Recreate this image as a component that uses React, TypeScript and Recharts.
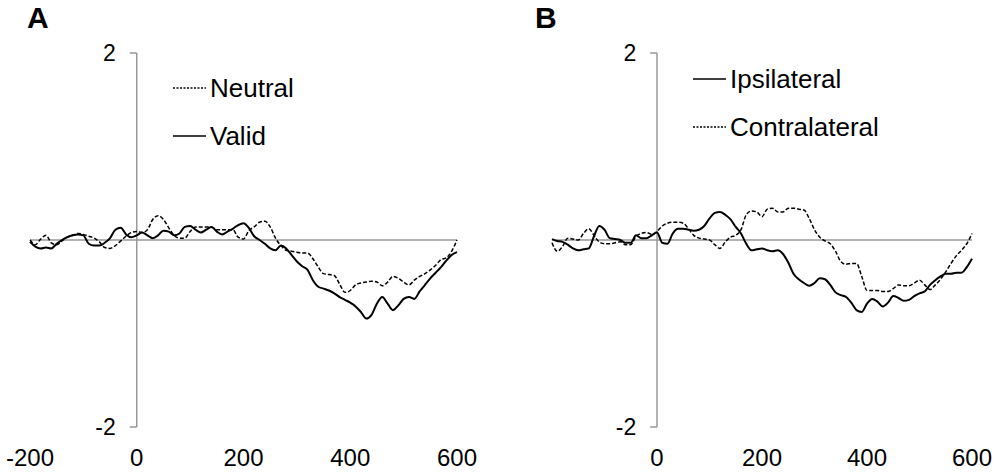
import { LineChart, Line, XAxis, YAxis, ReferenceLine, Legend } from "recharts";

// time axis (ms)
const times = [
  -200, -190, -180, -170, -160, -150, -140, -130, -120, -110, -100, -90, -80, -70, -60, -50, -40, -30, -20, -10,
  0, 10, 20, 30, 40, 50, 60, 70, 80, 90, 100, 110, 120, 130, 140, 150, 160, 170, 180, 190,
  200, 210, 220, 230, 240, 250, 260, 270, 280, 290, 300, 310, 320, 330, 340, 350, 360, 370, 380, 390,
  400, 410, 420, 430, 440, 450, 460, 470, 480, 490, 500, 510, 520, 530, 540, 550, 560, 570, 580, 590, 600,
];

// panel A
const neutral = [
  0.0, -0.05, 0.01, 0.05, -0.03, -0.05, -0.01, 0.03, 0.05, 0.07, 0.06, 0.04, 0.02, -0.02, -0.08, -0.09, -0.06, -0.01, 0.04, 0.08,
  0.09, 0.08, 0.11, 0.22, 0.26, 0.22, 0.13, 0.05, 0.02, 0.02, 0.09, 0.14, 0.14, 0.14, 0.14, 0.11, 0.11, 0.11, 0.11, 0.03,
  0.01, 0.1, 0.14, 0.19, 0.2, 0.14, 0.02, -0.06, -0.11, -0.12, -0.13, -0.14, -0.14, -0.2, -0.29, -0.36, -0.37, -0.38, -0.47, -0.56,
  -0.54, -0.48, -0.46, -0.45, -0.44, -0.45, -0.49, -0.45, -0.39, -0.41, -0.45, -0.48, -0.43, -0.39, -0.36, -0.32, -0.27, -0.21, -0.19, -0.12, 0.0,
];
const valid = [
  -0.02, -0.07, -0.09, -0.08, -0.09, -0.04, 0.0, 0.03, 0.05, 0.06, 0.05, -0.04, -0.06, -0.06, -0.03, 0.02, 0.11, 0.13, 0.06, 0.03,
  0.05, 0.08, 0.05, 0.02, 0.05, 0.1, 0.09, 0.05, 0.07, 0.14, 0.15, 0.11, 0.08, 0.11, 0.14, 0.09, 0.06, 0.09, 0.12, 0.16,
  0.18, 0.13, 0.04, 0.0, -0.04, -0.09, -0.11, -0.06, -0.09, -0.16, -0.23, -0.28, -0.32, -0.43, -0.5, -0.52, -0.54, -0.57, -0.61, -0.64,
  -0.67, -0.71, -0.77, -0.84, -0.8, -0.68, -0.61, -0.68, -0.75, -0.7, -0.63, -0.61, -0.63, -0.55, -0.48, -0.41, -0.35, -0.29, -0.22, -0.16, -0.13,
];

// panel B
const ipsilateral = [
  0.01, -0.01, -0.02, -0.05, -0.09, -0.11, -0.1, -0.09, 0.04, 0.15, 0.11, 0.02, 0.01, 0.0, -0.03, -0.03, 0.05, 0.02, 0.02, 0.05,
  0.08, -0.03, -0.04, 0.07, 0.12, 0.12, 0.11, 0.1, 0.11, 0.15, 0.23, 0.29, 0.3, 0.27, 0.22, 0.14, 0.07, -0.04, -0.11, -0.1,
  -0.09, -0.11, -0.12, -0.11, -0.15, -0.24, -0.36, -0.42, -0.46, -0.49, -0.46, -0.41, -0.42, -0.48, -0.56, -0.59, -0.61, -0.67, -0.75, -0.77,
  -0.68, -0.63, -0.66, -0.71, -0.67, -0.6, -0.62, -0.65, -0.64, -0.6, -0.57, -0.55, -0.48, -0.43, -0.39, -0.36, -0.36, -0.35, -0.35, -0.29, -0.2,
];
const contralateral = [
  -0.03, -0.12, -0.07, 0.02, 0.01, 0.0, 0.07, 0.12, 0.05, -0.02, -0.04, -0.04, -0.03, -0.02, -0.05, -0.05, 0.04, 0.07, 0.08, 0.06,
  0.09, 0.15, 0.18, 0.19, 0.19, 0.18, 0.12, 0.05, 0.02, 0.01, 0.0, -0.05, -0.09, -0.02, 0.03, 0.05, 0.11, 0.27, 0.31, 0.3,
  0.25, 0.33, 0.34, 0.3, 0.3, 0.34, 0.34, 0.33, 0.32, 0.23, 0.11, 0.03, -0.01, -0.04, -0.12, -0.23, -0.26, -0.25, -0.25, -0.39,
  -0.54, -0.54, -0.54, -0.55, -0.55, -0.52, -0.48, -0.49, -0.49, -0.46, -0.43, -0.48, -0.53, -0.48, -0.42, -0.34, -0.25, -0.17, -0.11, -0.04, 0.07,
];

const ticksA = [-200, 0, 200, 400, 600];
const ticksB = [0, 200, 400, 600];
const yTicks = [2, -2];

const FONT = '"Liberation Sans", Arial, sans-serif';

type Series = { key: string; name: string; values: number[]; dash?: string };

type PanelProps = {
  letter: string;
  letterX: number;
  left: number;
  series: Series[];
  ticks: number[];
  margin: { top: number; right: number; bottom: number; left: number };
  legendX: number;
  legendY: number;
};

function Panel({ letter, letterX, left, series, ticks, margin, legendX, legendY }: PanelProps) {
  const rows = times.map((t, i) => {
    const r: Record<string, number> = { t };
    series.forEach((s) => (r[s.key] = s.values[i]));
    return r;
  });

  // keep legend entries in series order (recharts sorts them by name otherwise)
  const renderLegend = (props: any) => {
    const payload: any[] = props.payload || [];
    const entries = series
      .map((s) => ({ s, e: payload.find((p) => p.value === s.name) }))
      .filter((x) => x.e);
    return (
      <div style={{ fontFamily: FONT }}>
        {entries.map(({ s, e }) => (
          <div key={e.value} style={{ display: "flex", alignItems: "center", height: 48 }}>
            <svg width={33} height={4} style={{ display: "block" }}>
              <line
                x1={0}
                y1={2}
                x2={33}
                y2={2}
                stroke="#000"
                strokeWidth={s.dash ? 1.3 : 1.6}
                strokeDasharray={s.dash ? "2 1.5" : undefined}
              />
            </svg>
            <span style={{ fontSize: 26, color: "#000", marginLeft: 4, lineHeight: "48px" }}>{e.value}</span>
          </div>
        ))}
      </div>
    );
  };

  return (
    <div style={{ position: "absolute", left, top: 0, width: 500, height: 472 }}>
      <div style={{ position: "absolute", left: letterX, top: 1, fontFamily: FONT, fontSize: 30, fontWeight: "bold", lineHeight: "34px" }}>
        {letter}
      </div>
      <LineChart width={500} height={472} data={rows} margin={margin}>
        <XAxis
          dataKey="t"
          type="number"
          domain={[-200, 600]}
          ticks={ticks}
          interval={0}
          axisLine={false}
          tickLine={false}
          tickSize={0}
          tickMargin={22}
          height={45}
          tick={{ fill: "#000", fontSize: 24, fontFamily: FONT }}
        />
        <YAxis hide type="number" domain={[-2, 2]} allowDataOverflow />
        <ReferenceLine y={0} stroke="#999" strokeWidth={1.5} />
        <ReferenceLine x={0} stroke="#999" strokeWidth={1.5} />
        {yTicks.map((v) => (
          <ReferenceLine
            key={v}
            segment={[{ x: -13, y: v }, { x: 0, y: v }]}
            stroke="#999"
            strokeWidth={1.5}
            label={{ value: String(v), position: "left", offset: 14, fill: "#000", fontSize: 23, fontFamily: FONT }}
          />
        ))}
        {series.map((s) => (
          <Line
            key={s.key}
            dataKey={s.key}
            name={s.name}
            type="monotone"
            stroke="#000"
            strokeWidth={s.dash ? 1.5 : 2}
            strokeDasharray={s.dash}
            dot={false}
            activeDot={false}
            isAnimationActive={false}
          />
        ))}
        <Legend
          layout="vertical"
          align="center"
          verticalAlign="middle"
          wrapperStyle={{ left: legendX, top: legendY, width: "auto", height: "auto" }}
          content={renderLegend}
        />
      </LineChart>
    </div>
  );
}

export default function App() {
  const seriesA: Series[] = [
    { key: "neutral", name: "Neutral", values: neutral, dash: "4 2" },
    { key: "valid", name: "Valid", values: valid },
  ];
  const seriesB: Series[] = [
    { key: "ipsi", name: "Ipsilateral", values: ipsilateral },
    { key: "contra", name: "Contralateral", values: contralateral, dash: "4 2" },
  ];
  return (
    <div style={{ position: "absolute", left: 0, top: 0, width: 1000, height: 472, background: "#fff" }}>
      <Panel
        letter="A"
        letterX={27}
        left={0}
        series={seriesA}
        ticks={ticksA}
        margin={{ top: 53, right: 43, bottom: 0, left: 30 }}
        legendX={173}
        legendY={64}
      />
      <Panel
        letter="B"
        letterX={35}
        left={500}
        series={seriesB}
        ticks={ticksB}
        margin={{ top: 53, right: 28, bottom: 0, left: 52 }}
        legendX={193}
        legendY={55}
      />
    </div>
  );
}
